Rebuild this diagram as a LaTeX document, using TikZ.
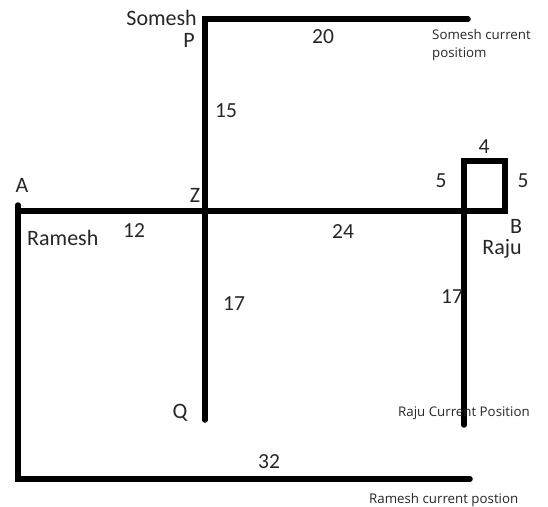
\documentclass[tikz,border=0pt]{standalone}
\usepackage{fontspec}
\setmainfont{Carlito}
\newfontfamily\smallfont{Open Sans}
\begin{document}
\begin{tikzpicture}[x=1pt,y=-1pt,
  path/.style={line width=5.5pt,line cap=round,line join=miter,black},
  big/.style={font=\fontsize{22}{26}\selectfont,inner sep=0pt,text=black!85},
  num/.style={font=\fontsize{21.5}{26}\selectfont,inner sep=0pt,text=black!85},
  small/.style={font=\smallfont\fontsize{13.3}{18}\selectfont,inner sep=0pt,text=black!85,align=left}]
\useasboundingbox (0,0) rectangle (548,506);
% coordinates
\coordinate (P) at (205,19);
\coordinate (S) at (468,19);
\coordinate (Q) at (205,420);
\coordinate (A) at (18,211);
\coordinate (Atop) at (18,205);
\coordinate (B) at (505,211);
\coordinate (B1) at (505,161);
\coordinate (B2) at (464,161);
\coordinate (R) at (464,425);
\coordinate (C) at (18,479);
\coordinate (D) at (470,479);
% paths
\draw[path] (S) -- (P) -- (Q);
\draw[path] (A) -- (B) -- (B1) -- (B2) -- (R);
\draw[path] (Atop) -- (C) -- (D);
% labels
\node[big,anchor=base east] (somesh) at (197,25) {Somesh};
\node[big,anchor=base] (p) at (189,47) {P};
\node[num,anchor=base] (l20) at (323,43) {20};
\node[small,anchor=base west] (sc1) at (432,39) {Somesh current};
\node[small,anchor=base west] (sc2) at (432,57) {positiom};
\node[num,anchor=base] (l15) at (226,117) {15};
\node[big,anchor=base] (a) at (22,192) {A};
\node[big,anchor=base] (z) at (195,202) {Z};
\node[num,anchor=base] (l12) at (134,237) {12};
\node[big,anchor=base west] (ramesh) at (27,245) {Ramesh};
\node[num,anchor=base] (l24) at (343,238) {24};
\node[num,anchor=base] (l4) at (484,153) {4};
\node[num,anchor=base] (l5a) at (441,187) {5};
\node[num,anchor=base] (l5b) at (523,187) {5};
\node[big,anchor=base] (b) at (516,233) {B};
\node[big,anchor=base] (raju) at (502,254) {Raju};
\node[num,anchor=base] (l17a) at (234,310) {17};
\node[num,anchor=base] (l17b) at (452,303) {17};
\node[big,anchor=base] (q) at (180,418) {Q};
\node[small,anchor=base west] (rc) at (398,416) {Raju Current Position};
\node[num,anchor=base] (l32) at (269,468) {32};
\node[small,anchor=base west] (rmc) at (369,503) {Ramesh current postion};
\end{tikzpicture}
\end{document}
